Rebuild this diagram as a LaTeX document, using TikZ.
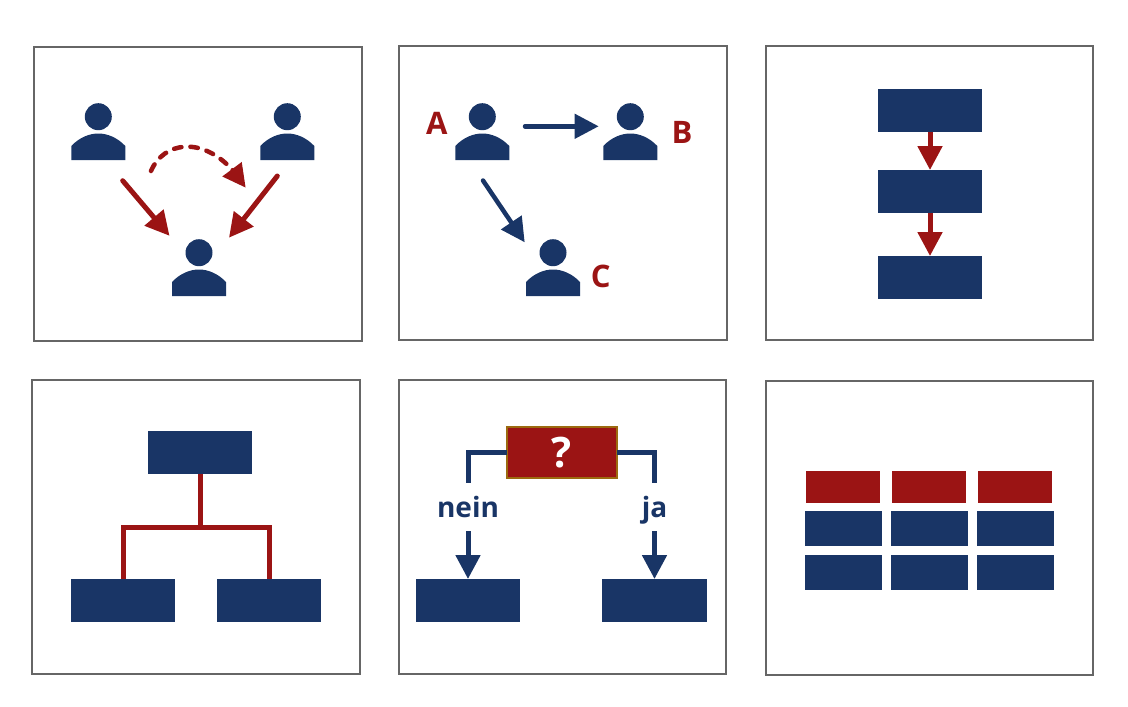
\documentclass[tikz,border=0pt]{standalone}
\usepackage{fontspec}
\usepackage{xcolor}
\usetikzlibrary{arrows.meta,bending}
\setmainfont{Open Sans}
\definecolor{navy}{HTML}{193566}
\definecolor{darkred}{HTML}{9B1414}
\definecolor{gold}{HTML}{9C6A0F}
\definecolor{framegrey}{HTML}{666666}
\tikzset{
	panel/.style={draw=framegrey, line width=2pt, minimum width=328pt, minimum height=294pt, inner sep=0pt, outer sep=0pt},
	box/.style={fill=navy, minimum width=104pt, minimum height=43pt, inner sep=0pt, outer sep=0pt},
	redbox/.style={fill=darkred, minimum width=74pt, minimum height=32pt, inner sep=0pt, outer sep=0pt},
	cell/.style={fill=navy, minimum width=77pt, minimum height=35pt, inner sep=0pt, outer sep=0pt},
	person/.style={minimum width=54pt, minimum height=57pt, inner sep=0pt, outer sep=0pt,
		path picture={
			\begin{scope}[shift={(path picture bounding box.center)}]
				\fill[navy] (0,-14.8) circle (13.5pt);
				\fill[navy] (-27,28.5) -- (-27,14.5) .. controls (-19,6) and (-9,2) .. (0,2)
					.. controls (9,2) and (19,6) .. (27,14.5) -- (27,28.5) -- cycle;
			\end{scope}
		}},
	letter/.style={text=darkred, font=\bfseries\fontsize{31}{31}\selectfont, inner sep=0pt},
	answer/.style={text=navy, font=\bfseries\fontsize{28}{28}\selectfont, inner xsep=0pt, inner ysep=11pt, text height=23.7pt, text depth=2.3pt},
	redarrow/.style={draw=darkred, line width=5pt, line cap=round, -{Triangle[width=24pt,length=24pt]}, fill=darkred},
	bluearrow/.style={draw=navy, line width=4.5pt, line cap=round, -{Triangle[width=24pt,length=24pt]}, fill=navy},
}

\begin{document}
\begin{tikzpicture}[x=1pt, y=-1pt]
	\useasboundingbox (0,0) rectangle (1128,707);

	\node[panel] (f1) at (198,194) {};
	\node[panel] (f2) at (563,193) {};
	\node[panel, minimum width=327pt] (f3) at (929.5,193) {};
	\node[panel] (f4) at (196,527) {};
	\node[panel, minimum width=327pt] (f5) at (562.5,527) {};
	\node[panel, minimum width=327pt] (f6) at (929.5,528) {};

	\node[person] (p1) at (98.3,131.5) {};
	\node[person] (p2) at (287.3,131.5) {};
	\node[person] (p3) at (199,267.5) {};
	\coordinate (s1) at (122.7,180.7);
	\coordinate (t1) at (169.5,235.8);
	\coordinate (s2) at (277.3,176);
	\coordinate (t2) at (229,237.7);
	\coordinate (s3) at (151,171);
	\coordinate (t3) at (245.7,187.7);
	\draw[redarrow] (s1) -- (t1);
	\draw[redarrow] (s2) -- (t2);
	\draw[draw=darkred, fill=none, line width=4.5pt, line cap=round, dash pattern=on 7.5pt off 9pt, -{Triangle[width=23pt,length=23pt,fill=darkred,flex]}]
		(s3) .. controls (165,138) and (212.7,134) .. (t3);

	\node[person] (a) at (482.3,131.5) {};
	\node[person] (b) at (630.3,131.5) {};
	\node[person] (c) at (553,267.5) {};
	\node[letter] (la) at (436.7,123.7) {A};
	\node[letter] (lb) at (682,132.7) {B};
	\node[letter] (lc) at (600.7,276) {C};
	\coordinate (sb) at (525,126.3);
	\coordinate (tb) at (598.7,126.3);
	\coordinate (sc) at (483,180.5);
	\coordinate (tc) at (524.7,242.3);
	\draw[bluearrow] (sb) -- (tb);
	\draw[bluearrow] (sc) -- (tc);

	\node[box] (r1) at (930,110.5) {};
	\node[box, node distance=81pt] (r2)[below of = r1] {};
	\node[box, node distance=86pt] (r3)[below of = r2] {};
	\draw[redarrow, line cap=butt] (r1) -- (r2);
	\draw[redarrow, line cap=butt] (r2) -- (r3);

	\node[box] (top) at (200,452.5) {};
	\node[box] (left) at (123,600.5) {};
	\node[box] (right) at (269,600.5) {};
	\coordinate (hub) at (200,527);
	\draw[darkred, line width=5pt] (top) -- (hub);
	\draw[darkred, line width=5pt] (left) |- (hub) -| (right);

	\node[fill=darkred, draw=gold, line width=1.5pt, minimum width=110pt, minimum height=51pt, inner sep=0pt, outer sep=0pt, text=white, font=\bfseries\fontsize{42}{42}\selectfont] (q) at (562,452.5) {?};
	\node[answer] (nein) at (468,507) {nein};
	\node[answer] (ja) at (654.5,507) {ja};
	\node[box] (no) at (468,600.5) {};
	\node[box, minimum width=105pt] (yes) at (654.5,600.5) {};
	\draw[navy, line width=5pt] (q.west) -| (nein);
	\draw[navy, line width=5pt] (q.east) -| (ja);
	\draw[bluearrow, line width=5pt, line cap=butt] (nein) -- (no);
	\draw[bluearrow, line width=5pt, line cap=butt] (ja) -- (yes);

	\node[redbox] (h1) at (843,487) {};
	\node[redbox, node distance=86pt] (h2)[right of = h1] {};
	\node[redbox, node distance=86pt] (h3)[right of = h2] {};
	\node[cell] (c1) at (843.5,528.5) {};
	\node[cell, node distance=86pt] (c2)[right of = c1] {};
	\node[cell, node distance=86pt] (c3)[right of = c2] {};
	\node[cell, node distance=44pt] (c4)[below of = c1] {};
	\node[cell, node distance=44pt] (c5)[below of = c2] {};
	\node[cell, node distance=44pt] (c6)[below of = c3] {};
\end{tikzpicture}
\end{document}
